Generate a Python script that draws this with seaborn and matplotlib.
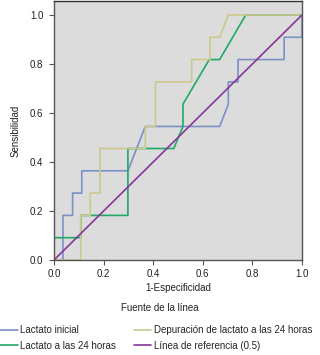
import matplotlib
matplotlib.use("Agg")
import matplotlib.pyplot as plt
import seaborn as sns
import pandas as pd
from matplotlib.lines import Line2D

# ---- data ----
series_names = ["Lactato inicial", "Lactato a las 24 horas",
                "Depuración de lactato a las 24 horas", "Línea de referencia (0.5)"]

blue_x = [0, 0.036, 0.036, 0.075, 0.075, 0.112, 0.112, 0.298, 0.368, 0.668, 0.703, 0.703,
          0.742, 0.742, 0.928, 0.928, 1.0, 1.0]
blue_y = [0, 0, 0.182, 0.182, 0.273, 0.273, 0.364, 0.364, 0.545, 0.545, 0.636, 0.727,
          0.727, 0.818, 0.818, 0.909, 0.909, 1.0]

green_x = [0, 0, 0.108, 0.108, 0.298, 0.298, 0.483, 0.52, 0.52, 0.626, 0.668, 0.773, 1.0]
green_y = [0, 0.091, 0.091, 0.182, 0.182, 0.455, 0.455, 0.545, 0.636, 0.818, 0.818, 1.0, 1.0]

yellow_x = [0, 0.108, 0.108, 0.146, 0.146, 0.186, 0.186, 0.368, 0.368, 0.409, 0.409,
            0.555, 0.555, 0.629, 0.629, 0.668, 0.703, 1.0]
yellow_y = [0, 0, 0.182, 0.182, 0.273, 0.273, 0.455, 0.455, 0.545, 0.545, 0.727,
            0.727, 0.818, 0.818, 0.909, 0.909, 1.0, 1.0]

ref_x = [0, 1]
ref_y = [0, 1]

tick_values = [0.0, 0.2, 0.4, 0.6, 0.8, 1.0]
tick_labels = ["0.0", "0.2", "0.4", "0.6", "0.8", "1.0"]

colors = ["#7b90c6", "#22a867", "#cbc98c", "#86369a"]

# ---- build table ----
frames = []
for name, xs, ys in zip(series_names,
                        [blue_x, green_x, yellow_x, ref_x],
                        [blue_y, green_y, yellow_y, ref_y]):
    frames.append(pd.DataFrame({"x": xs, "y": ys, "serie": name, "orden": range(len(xs))}))
df = pd.concat(frames, ignore_index=True)

sns.set_theme(style="ticks")
plt.rcParams["font.family"] = ["Liberation Sans", "DejaVu Sans"]

FS = 7.0
fig = plt.figure(figsize=(3.2, 3.55), dpi=100)
ax = fig.add_axes([54 / 320, 1 - 260 / 355, 248 / 320, 259 / 355])
ax.set_facecolor("#dcdcdc")

sns.lineplot(data=df, x="x", y="y", hue="serie", hue_order=series_names,
             palette=colors, sort=False, estimator=None, units="serie",
             linewidth=1.2, ax=ax, legend=False)

ax.set_xlim(0, 1.0)
ax.set_ylim(0, 1.057)
ax.set_xticks(tick_values)
ax.set_xticklabels(tick_labels)
ax.set_yticks(tick_values)
ax.set_yticklabels(tick_labels)
ax.tick_params(labelsize=FS, length=3.6, width=0.8, color="#555555", pad=3, labelcolor="#222222")
ax.tick_params(axis="y", pad=4)
for s in ax.spines.values():
    s.set_color("#555555")
    s.set_linewidth(1.0)
ax.spines["top"].set_color("#333333")

ax.set_xlabel("1-Especificidad", fontsize=FS, labelpad=3, color="#222222")
ax.set_ylabel("Sensibilidad", fontsize=FS, labelpad=7, color="#222222")

fig.text(0.5, 1 - 308 / 355, "Fuente de la línea", ha="center", va="center",
         fontsize=FS, color="#222222")

handles = [Line2D([0], [0], color=c, lw=1.2) for c in colors]
fig.legend(handles, series_names, loc="upper left", bbox_to_anchor=(0.0, 1 - 325 / 355),
           ncol=2, frameon=False, fontsize=FS, handlelength=1.8, handletextpad=0.3,
           columnspacing=1.8, labelspacing=0.6, borderaxespad=0, borderpad=0)

fig.savefig("out.png", dpi=100, facecolor="white")
